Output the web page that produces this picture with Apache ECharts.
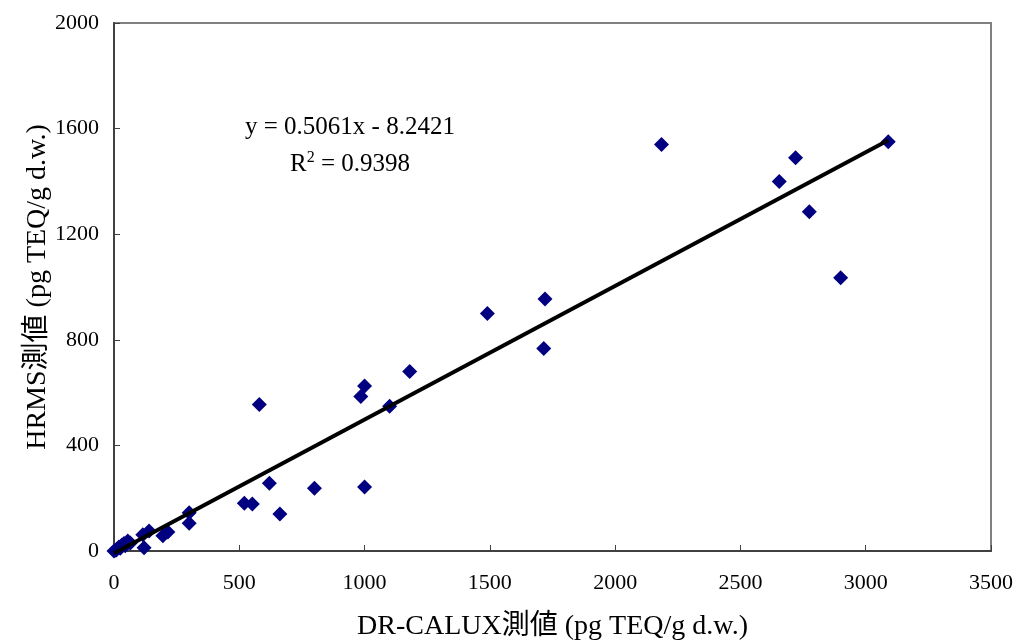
<!DOCTYPE html>
<html>
<head>
<meta charset="utf-8">
<script src="https://cdn.jsdelivr.net/npm/echarts@6/dist/echarts.min.js"></script>
<style>html,body{margin:0;padding:0;background:#fff;}#c{width:1019px;height:644px;}</style>
</head>
<body>
<div id="c"></div>
<script>
// DR-CALUX values (x) and HRMS values (y)
const calux = [3090, 2185, 2720, 2655, 2775, 2900, 1490, 1720, 1715, 1180, 1000, 985, 1100, 580, 620, 800, 1000, 662, 520, 552,
               300, 300, 215, 195, 140, 115, 120, 55, 32, 12, 0, 25, 45, 65, 20, 8, 40];
const hrms  = [1550, 1540, 1490, 1400, 1285, 1035, 900, 955, 767, 680, 625, 585, 548, 555, 257, 238, 242, 140, 181, 178,
               145, 105, 72, 58, 76, 62, 12, 38, 23, 8, 0, 10, 20, 30, 15, 3, 28];
const slope = 0.5061, intercept = -8.2421;
const trendX = [0, 3090];
const xTicks = [0, 500, 1000, 1500, 2000, 2500, 3000, 3500];
const yTicks = [0, 400, 800, 1200, 1600, 2000];

const serif = '"Liberation Serif", "Times New Roman", "Noto Sans CJK JP", serif';
const chart = echarts.init(document.getElementById('c'));
chart.setOption({
  animation: false,
  backgroundColor: '#fff',
  grid: { left: 114, right: 28, top: 23, bottom: 93, show: true, borderColor: '#808080', borderWidth: 2,
          outerBoundsMode: 'none', containLabel: false },
  xAxis: {
    type: 'value', min: xTicks[0], max: xTicks[xTicks.length - 1], interval: 500,
    name: 'DR-CALUX測値 (pg TEQ/g d.w.)', nameLocation: 'middle', nameGap: 62, nameMoveOverlap: false,
    nameTextStyle: { fontFamily: serif, fontSize: 28, color: '#000' },
    axisLine: { show: true, lineStyle: { color: '#404040', width: 2 } },
    axisTick: { show: true, inside: true, length: 6, lineStyle: { color: '#404040', width: 1 } },
    axisLabel: { fontFamily: serif, fontSize: 22, color: '#000', margin: 21, formatter: v => String(v) },
    splitLine: { show: false }
  },
  yAxis: {
    type: 'value', min: yTicks[0], max: yTicks[yTicks.length - 1], interval: 400,
    name: 'HRMS測値 (pg TEQ/g d.w.)', nameLocation: 'middle', nameGap: 62, nameRotate: 90, nameMoveOverlap: false,
    nameTextStyle: { fontFamily: serif, fontSize: 28, color: '#000' },
    axisLine: { show: true, lineStyle: { color: '#404040', width: 2 } },
    axisTick: { show: true, inside: true, length: 6, lineStyle: { color: '#404040', width: 1 } },
    axisLabel: { fontFamily: serif, fontSize: 22, color: '#000', margin: 15, formatter: v => String(v) },
    splitLine: { show: false }
  },
  series: [
    {
      type: 'line', data: trendX.map(x => [x, slope * x + intercept]), clip: false,
      symbol: 'none', lineStyle: { color: '#000', width: 4 }, z: 3
    },
    {
      type: 'scatter', data: calux.map((x, i) => [x, hrms[i]]), clip: false,
      symbol: 'diamond', symbolSize: 15, itemStyle: { color: '#000080', opacity: 1 }, z: 2
    }
  ],
  graphic: [
    { type: 'text', left: 245, top: 115, style: { text: 'y = 0.5061x - 8.2421', font: '25px ' + serif, fill: '#000' } },
    { type: 'text', left: 290, top: 150, style: {
        text: '{a|R}{s|2}{a| = 0.9398}',
        rich: { a: { fontFamily: serif, fontSize: 25, fill: '#000', verticalAlign: 'bottom' },
                s: { fontFamily: serif, fontSize: 16, fill: '#000', verticalAlign: 'top', padding: [0, 0, 11, 0] } }
      } }
  ]
});
</script>
</body>
</html>
